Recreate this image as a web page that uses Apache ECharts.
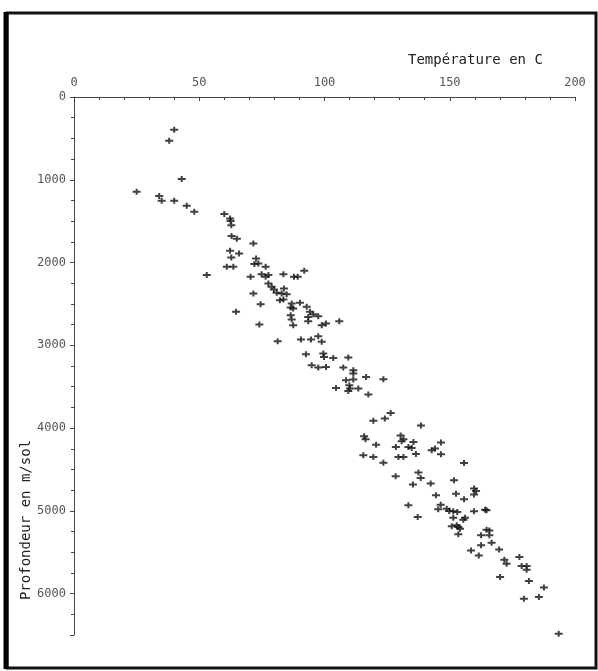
<!DOCTYPE html>
<html>
<head>
<meta charset="utf-8">
<script src="https://cdn.jsdelivr.net/npm/echarts@6/dist/echarts.min.js"></script>
<style>html,body{margin:0;padding:0;background:#fff}#c{width:598px;height:671px}</style>
</head>
<body>
<div id="c"></div>
<script>
const temperature = [40,38,43,25,34,35,40,45,48,60,62.3,62.5,62.8,62.9,65,71.6,62.3,65.9,62.8,72.7,
61,63.6,72,73.6,76.5,53,70.5,74.9,76.5,77.6,83.6,87.8,89.3,91.9,77.6,78.9,79.8,80.9,82.9,84.9,
82.2,83.6,83.8,71.6,74.5,86.5,87.5,86.5,86.9,64.7,87.5,74,81.3,86.9,90.2,92.9,94.2,95.5,97.5,93.5,
93.5,105.9,98.9,100.6,90.6,94.6,97.5,98.9,92.6,99.5,99.8,103.5,109.5,94.9,97.5,100.6,107.5,111.5,111.5,108.6,
111.5,116.6,123.5,104.6,109.9,110.2,109.5,113.5,117.5,126.4,124.1,119.5,138.5,115.8,116.4,120.6,130.4,131.5,130.8,128.5,
133.5,134.8,135.5,136.5,115.5,119.5,129.5,131.5,123.5,128.4,137.5,138.4,142.8,146.5,144.1,146.5,155.7,135.3,142.4,151.7,
159.7,160.5,159.7,152.5,144.5,155.7,133.5,146.4,145.4,148.8,149.8,151.4,153,159.7,164.1,164.7,137.2,151.4,155.4,156.1,
150.8,152.8,153.4,154.1,153.4,164.7,165.8,162.5,165.8,162.5,166.7,158.5,161.6,169.7,171.8,172.7,177.8,178.7,180.7,180.7,
170.1,181.6,187.6,185.6,179.6,193.5];
const depth = [395,528,992,1145,1197,1254,1254,1314,1387,1413,1469,1498,1548,1679,1713,1769,1858,1890,1938,1950,
2052,2052,2019,2011,2052,2152,2173,2140,2173,2152,2140,2173,2173,2100,2253,2294,2325,2366,2374,2382,
2455,2446,2313,2374,2503,2543,2555,2636,2688,2596,2757,2749,2950,2495,2487,2535,2596,2624,2648,2657,
2709,2709,2757,2737,2930,2930,2890,2958,3108,3099,3140,3152,3148,3241,3269,3261,3269,3301,3342,3422,
3414,3382,3410,3515,3482,3523,3551,3523,3595,3817,3885,3910,3970,4099,4135,4200,4091,4135,4160,4229,
4229,4241,4168,4313,4329,4349,4349,4349,4418,4583,4538,4603,4268,4175,4248,4317,4422,4683,4671,4631,
4731,4761,4804,4792,4813,4861,4933,4925,4982,4974,5002,5006,5015,5006,4986,4994,5075,5083,5107,5083,
5187,5175,5196,5215,5284,5227,5236,5296,5296,5417,5385,5478,5538,5466,5590,5639,5559,5667,5667,5711,
5800,5849,5925,6042,6062,6485];
const xTitle = 'Température en C';
const yTitle = 'Profondeur en m/sol';

const points = temperature.map((t, i) => [t, depth[i]]);
const font = '"DejaVu Sans Mono", monospace';
const chart = echarts.init(document.getElementById('c'));
chart.setOption({
  animation: false,
  backgroundColor: '#fff',
  grid: { left: 74, top: 97, right: 23, bottom: 36 },
  xAxis: {
    type: 'value', position: 'top', min: 0, max: 200, interval: 50,
    axisLine: { show: true, lineStyle: { color: '#444', width: 1 } },
    axisTick: { show: true, inside: true, length: 4, lineStyle: { color: '#444' } },
    minorTick: { show: true, splitNumber: 5, length: 3, lineStyle: { color: '#444' } },
    splitLine: { show: false },
    axisLabel: { color: '#555', fontFamily: font, fontSize: 12, margin: 8,
      formatter: v => String(v) }
  },
  yAxis: {
    type: 'value', inverse: true, min: 0, max: 6500, interval: 1000,
    axisLine: { show: true, lineStyle: { color: '#444', width: 1 } },
    axisTick: { show: true, length: 4, lineStyle: { color: '#444' } },
    minorTick: { show: true, splitNumber: 4, length: 3, lineStyle: { color: '#444' } },
    splitLine: { show: false },
    axisLabel: { color: '#555', fontFamily: font, fontSize: 12, margin: 8,
      showMaxLabel: false, formatter: v => String(v) }
  },
  graphic: [
    { type: 'text', left: 408, top: 53, style: { text: xTitle, fill: '#222', font: '14px ' + font } },
    { type: 'text', x: 26, y: 520, rotation: Math.PI / 2,
      style: { text: yTitle, fill: '#222', font: '14px ' + font, align: 'center', verticalAlign: 'middle' } },
    { type: 'rect', shape: { x: 7, y: 13, width: 589, height: 655 },
      style: { fill: 'none', stroke: '#111', lineWidth: 3 } },
    { type: 'line', shape: { x1: 6, y1: 12, x2: 6, y2: 669 }, style: { stroke: '#000', lineWidth: 5 } }
  ],
  series: [{
    type: 'scatter',
    data: points,
    symbol: 'path://M3,0h2v2h3v2h-3v2h-2v-2h-3v-2h3z',
    symbolSize: [8, 6],
    itemStyle: { color: '#111' }
  }]
});
</script>
</body>
</html>
